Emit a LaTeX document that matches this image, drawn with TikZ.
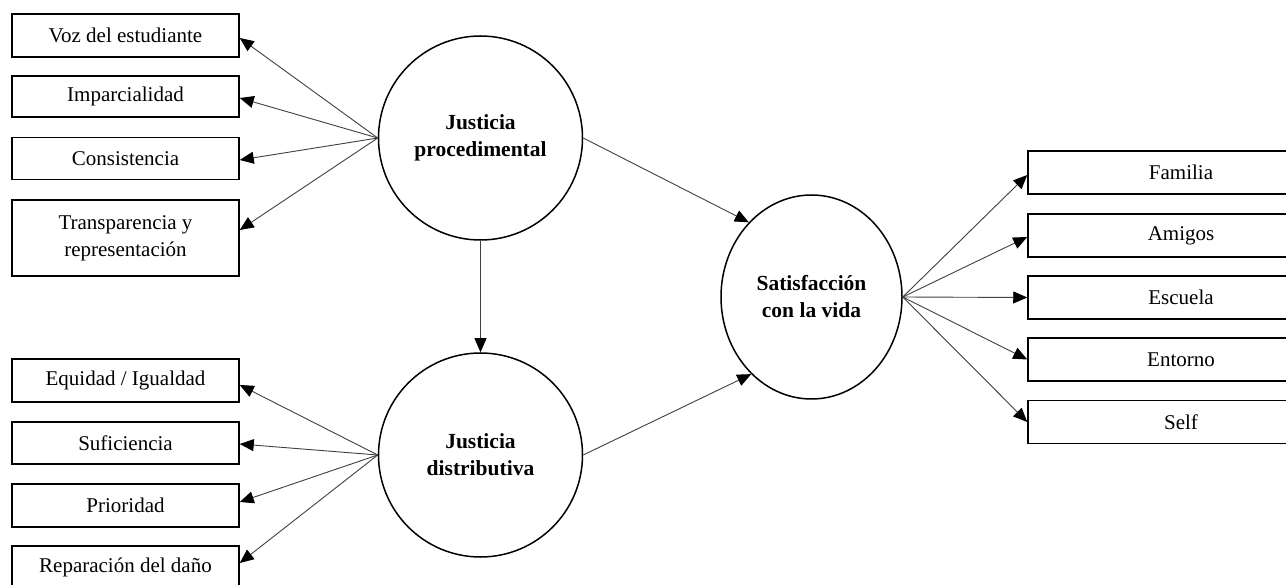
\documentclass[tikz,border=0pt]{standalone}
\usepackage{fontspec}
\setmainfont{Liberation Serif}
\usetikzlibrary{arrows.meta,calc,shapes.geometric}
\begin{document}
\begin{tikzpicture}[x=1pt,y=-1pt,
  every node/.style={font=\fontsize{21}{27}\selectfont, inner sep=0pt},
  leftbox/.style={draw=black, line width=1.5pt, minimum width=227pt, align=center},
  rightbox/.style={draw=black, line width=1.5pt, minimum width=306pt, minimum height=43pt, align=center},
  latent/.style={draw=black, line width=1.5pt, circle, minimum size=204pt, align=center, font=\fontsize{21.5}{27}\selectfont\bfseries},
  latentell/.style={draw=black, line width=1.5pt, ellipse, minimum width=181pt, minimum height=204pt, align=center, font=\fontsize{21.5}{27}\selectfont\bfseries},
  conn/.style={draw=black!75, line width=0.9pt, -{Triangle[length=14pt,width=12pt,fill=black,color=black]}}
]
\useasboundingbox (0,0) rectangle (1286,585);
\fill[white] (0,0) rectangle (1286,585);

% left top boxes
\node[leftbox, minimum height=43pt] (v1) at (125.5,35.5) {Voz del estudiante};
\node[leftbox, minimum height=41pt] (v2) at (125.5,96.5) {Imparcialidad};
\node[leftbox, minimum height=42pt] (v3) at (125.5,158.5) {Consistencia};
\node[leftbox, minimum height=76pt] (v4) at (125.5,238) {Transparencia y\\representación};

% left bottom boxes
\node[leftbox, minimum height=43pt] (d1) at (125.5,380.5) {Equidad / Igualdad};
\node[leftbox, minimum height=42pt] (d2) at (125.5,443) {Suficiencia};
\node[leftbox, minimum height=43pt] (d3) at (125.5,505.5) {Prioridad};
\node[leftbox, minimum height=43pt] (d4) at (125.5,567.5) {Reparación del daño};

% right boxes
\node[rightbox] (s1) at (1181,172.5) {Familia};
\node[rightbox] (s2) at (1181,235.5) {Amigos};
\node[rightbox] (s3) at (1181,297.5) {Escuela};
\node[rightbox] (s4) at (1181,359.5) {Entorno};
\node[rightbox] (s5) at (1181,422) {Self};

% latent variables
\node[latent] (jp) at (480.5,138) {Justicia\\procedimental};
\node[latent] (jd) at (480.5,455) {Justicia\\distributiva};
\node[latentell] (sv) at (811.5,297) {Satisfacción\\con la vida};

% connectors
\draw[conn] (jp.west) -- ([yshift=-2.5pt]v1.east);
\draw[conn] (jp.west) -- ([yshift=-1.5pt]v2.east);
\draw[conn] (jp.west) -- ([yshift=-1.5pt]v3.east);
\draw[conn] (jp.west) -- ([yshift=8pt]v4.east);

\draw[conn] (jd.west) -- ([yshift=-4.5pt]d1.east);
\draw[conn] (jd.west) -- ([yshift=-1pt]d2.east);
\draw[conn] (jd.west) -- ([yshift=3.5pt]d3.east);
\draw[conn] (jd.west) -- ([yshift=4.5pt]d4.east);

\draw[conn] (jp.south) -- (jd.north);
\draw[conn] (jp.east) -- (sv.130);
\draw[conn] (jd.east) -- (sv.232);

\draw[conn] (sv.east) -- ([yshift=-2.5pt]s1.west);
\draw[conn] (sv.east) -- ([yshift=-1.5pt]s2.west);
\draw[conn] (sv.east) -- (s3.west);
\draw[conn] (sv.east) -- (s4.west);
\draw[conn] (sv.east) -- (s5.west);
\end{tikzpicture}
\end{document}
